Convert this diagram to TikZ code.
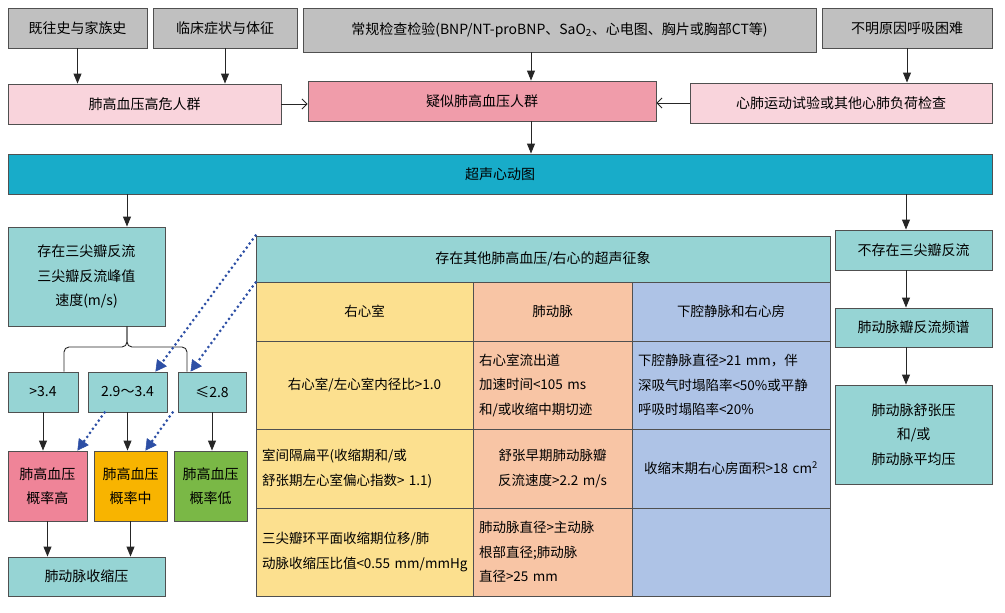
\documentclass[tikz,border=0pt]{standalone}
\usepackage{fontspec}
\setmainfont{Noto Sans CJK SC}
\usetikzlibrary{arrows.meta}

\definecolor{boxline}{HTML}{505050}
\definecolor{boxgray}{HTML}{C0C0C0}
\definecolor{riskpink}{HTML}{F9D4DC}
\definecolor{susppink}{HTML}{F09CAA}
\definecolor{echoblue}{HTML}{18ACC9}
\definecolor{boxteal}{HTML}{96D4D4}
\definecolor{probhigh}{HTML}{EF8498}
\definecolor{probmid}{HTML}{F8B400}
\definecolor{problow}{HTML}{7AB846}
\definecolor{rvyellow}{HTML}{FCE08F}
\definecolor{pasalmon}{HTML}{F8C5A5}
\definecolor{ivcblue}{HTML}{AEC3E6}
\definecolor{dotblue}{HTML}{2D4FA5}

\tikzset{
	box/.style={draw=boxline,line width=0.9pt,inner sep=0pt,align=center,font=\fontsize{14pt}{24.5pt}\selectfont},
	cell/.style={box,inner xsep=6pt,align=left,font=\fontsize{13.5pt}{24.5pt}\selectfont},
	line/.style={draw=black!85,line width=0.9pt},
	arr/.style={line,-{Triangle[width=8pt,length=10pt]}},
	harr/.style={line,-{Straight Barb[width=10pt,length=5pt]}},
	dotarr/.style={draw=dotblue,line width=3pt,dash pattern=on 0pt off 5pt,line cap=round,-{Triangle[width=12pt,length=11pt,line width=0.5pt,fill=dotblue]}}
}

\begin{document}
\begin{tikzpicture}[x=1pt,y=-1pt]
	\useasboundingbox (0,0) rectangle (1005,613);
	
	\node[box,fill=boxgray,minimum width=139pt,minimum height=40pt] (hist) at (77.5,28) {既往史与家族史};
	\node[box,fill=boxgray,minimum width=144pt,minimum height=40pt] (clin) at (225,28) {临床症状与体征};
	\node[box,fill=boxgray,minimum width=513pt,minimum height=44pt] (rout) at (559.5,30) {常规检查检验(BNP/NT-proBNP、SaO\textsubscript{2}、心电图、胸片或胸部CT等)};
	\node[box,fill=boxgray,minimum width=170pt,minimum height=40pt] (dysp) at (907,28) {不明原因呼吸困难};
	
	\node[box,fill=riskpink,minimum width=273pt,minimum height=40pt] (risk) at (144.5,104) {肺高血压高危人群};
	\node[box,fill=susppink,minimum width=348pt,minimum height=40pt] (susp) at (482,101) {疑似肺高血压人群};
	\node[box,fill=riskpink,minimum width=302pt,minimum height=40pt] (cpet) at (841,103) {心肺运动试验或其他心肺负荷检查};
	
	\node[box,fill=echoblue,minimum width=984pt,minimum height=40pt] (echo) at (500,174) {超声心动图};
	
	\coordinate (ax1) at (531,0);
	\coordinate (ax2) at (127,0);
	\coordinate (ax3) at (906,0);
	
	\draw[arr] (hist.south) -- (hist.south |- risk.north);
	\draw[arr] (clin.south) -- (clin.south |- risk.north);
	\draw[arr] (rout.south -| ax1) -- (susp.north -| ax1);
	\draw[arr] (dysp.south) -- (dysp.south |- cpet.north);
	\draw[harr] (risk.east) -- (risk.east -| susp.west);
	\draw[harr] (cpet.west) -- (cpet.west -| susp.east);
	\draw[arr] (susp.south -| ax1) -- (echo.north -| ax1);
	
	\node[box,fill=boxteal,minimum width=157pt,minimum height=99pt] (tr) at (86.5,276.5) {存在三尖瓣反流\\三尖瓣反流峰值\\速度(m/s)};
	\node[box,fill=boxteal,minimum width=70pt,minimum height=40pt] (g34) at (43,392) {>3.4};
	\node[box,fill=boxteal,minimum width=79pt,minimum height=40pt] (mid) at (127.5,392) {2.9～3.4};
	\node[box,fill=boxteal,minimum width=68pt,minimum height=40pt] (le28) at (212,392) {≤2.8};
	\node[box,fill=probhigh,minimum width=79pt,minimum height=70pt] (high) at (47.5,486) {肺高血压\\概率高};
	\node[box,fill=probmid,minimum width=73pt,minimum height=70pt] (med) at (130.5,486) {肺高血压\\概率中};
	\node[box,fill=problow,minimum width=73pt,minimum height=70pt] (low) at (210.5,486) {肺高血压\\概率低};
	\node[box,fill=boxteal,minimum width=157pt,minimum height=39pt] (pas) at (86.5,576.5) {肺动脉收缩压};
	
	\coordinate (bl) at (64,347);
	\coordinate (br) at (187,347);
	
	\draw[arr] (echo.south -| ax2) -- (tr.north -| ax2);
	\draw[line,rounded corners=5pt] (tr.south -| ax2) |- (bl) -- (bl |- g34.north);
	\draw[line,rounded corners=5pt] (tr.south -| ax2) |- (br) -- (br |- le28.north);
	\draw[arr] (g34.south) -- (g34.south |- high.north);
	\draw[arr] (mid.south) -- (mid.south |- med.north);
	\draw[arr] (le28.south) -- (le28.south |- low.north);
	\draw[arr] (high.south) -- (high.south |- pas.north);
	\draw[arr] (med.south) -- (med.south |- pas.north);
	
	\node[box,fill=boxteal,minimum width=574pt,minimum height=46pt] (hdr) at (543,259) {存在其他肺高血压/右心的超声征象};
	
	\node[cell,fill=rvyellow,text width=205pt,minimum height=59pt,align=center] (rv0) at (364.5,311.5) {右心室};
	\node[cell,fill=rvyellow,text width=205pt,minimum height=88pt,align=center] (rv1) at (364.5,385) {右心室/左心室内径比>1.0};
	\node[cell,fill=rvyellow,text width=205pt,minimum height=79pt] (rv2) at (364.5,468.5) {室间隔扁平(收缩期和/或\\舒张期左心室偏心指数>~1.1)};
	\node[cell,fill=rvyellow,text width=205pt,minimum height=88pt] (rv3) at (364.5,552) {三尖瓣环平面收缩期位移/肺\\动脉收缩压比值<0.55~mm/mmHg};
	
	\node[cell,fill=pasalmon,text width=147pt,minimum height=59pt,align=center] (pa0) at (552.5,311.5) {肺动脉};
	\node[cell,fill=pasalmon,text width=147pt,minimum height=88pt] (pa1) at (552.5,385) {右心室流出道\\加速时间<105~ms\\和/或收缩中期切迹};
	\node[cell,fill=pasalmon,text width=147pt,minimum height=79pt,align=center] (pa2) at (552.5,468.5) {舒张早期肺动脉瓣\\反流速度>2.2~m/s};
	\node[cell,fill=pasalmon,text width=147pt,minimum height=88pt] (pa3) at (552.5,552) {肺动脉直径>主动脉\\根部直径;肺动脉\\直径>25~mm};
	
	\node[cell,fill=ivcblue,text width=186pt,minimum height=59pt,align=center] (ra0) at (731,311.5) {下腔静脉和右心房};
	\node[cell,fill=ivcblue,text width=186pt,minimum height=88pt] (ra1) at (731,385) {下腔静脉直径>21~mm，伴\\深吸气时塌陷率<50\%或平静\\呼吸时塌陷率<20\%};
	\node[cell,fill=ivcblue,text width=186pt,minimum height=79pt,align=center] (ra2) at (731,468.5) {收缩末期右心房面积>18~cm\textsuperscript{2}};
	\node[cell,fill=ivcblue,text width=186pt,minimum height=88pt] (ra3) at (731,552) {};
	
	\node[box,fill=boxteal,minimum width=157pt,minimum height=40pt] (notr) at (913.5,250) {不存在三尖瓣反流};
	\node[box,fill=boxteal,minimum width=157pt,minimum height=39pt] (preg) at (913.5,327.5) {肺动脉瓣反流频谱};
	\node[box,fill=boxteal,minimum width=157pt,minimum height=99pt] (pdp) at (913.5,434.5) {肺动脉舒张压\\和/或\\肺动脉平均压};
	
	\draw[arr] (echo.south -| ax3) -- (notr.north -| ax3);
	\draw[arr] (notr.south -| ax3) -- (preg.north -| ax3);
	\draw[arr] (preg.south -| ax3) -- (pdp.north -| ax3);
	
	\draw[dotarr] (hdr.north west) -- ([xshift=-12pt]mid.north east);
	\draw[dotarr] (hdr.south west) -- ([xshift=13pt]le28.north west);
	\draw[dotarr] ([xshift=17pt]mid.south west) -- ([xshift=-10pt]high.north east);
	\draw[dotarr] ([xshift=-5pt]le28.south west) -- ([xshift=-22pt]med.north east);
	
\end{tikzpicture}
\end{document}
